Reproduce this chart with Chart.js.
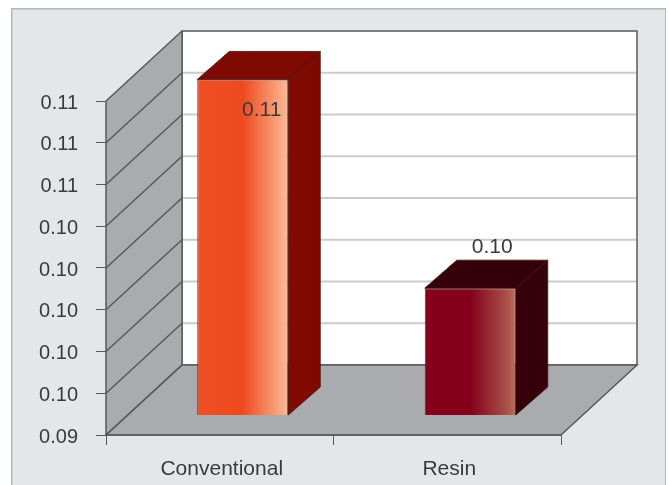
<!DOCTYPE html>
<html>
<head>
<meta charset="utf-8">
<style>
    html, body { margin: 0; padding: 0; background: #ffffff; }
    canvas { display: block; }
</style>
<script src="https://cdn.jsdelivr.net/npm/chart.js@4"></script>
</head>
<body>
<canvas id="myChart" width="669" height="485"></canvas>
<script>
const categories = ["Conventional", "Resin"];
const barValues = [0.1101, 0.1001];
const yTickLabels = ["0.09", "0.10", "0.10", "0.10", "0.10", "0.10", "0.11", "0.11", "0.11"];
const frontGradients = [
    ["#f04e23", "#ee4a20", "#f9a67f", "#f8bb9c"],
    ["#85001b", "#85001b", "#a8504a", "#bd6d60"]
];
const topColors = ["#7f0a02", "#36000b"];
const sideColors = ["#7f0a02", "#36000b"];

// depth of the whole box, and where the bars sit inside it
const boxDepth = { x: 76, y: -70 };
const barShift = { x: 23, y: -19.5 };
const barDepth = { x: 32, y: -28 };

// Panel behind the chart
const panel = {
    id: "panel",
    beforeDraw(chart) {
        const c = chart.ctx;
        c.save();
        c.fillStyle = "#e4e7ea";
        c.fillRect(11, 8, 655, 477);
        c.fillStyle = "#b4b7ba";
        c.fillRect(11, 8, 655, 1.5);
        c.fillRect(11, 8, 1.5, 477);
        c.fillRect(665, 8, 1, 477);
        c.restore();
    }
};

// Floor and walls of the 3D box, drawn from the scales
const box = {
    id: "box",
    beforeDatasetsDraw(chart) {
        const c = chart.ctx;
        const a = chart.chartArea;
        const y = chart.scales.y;
        const dx = boxDepth.x, dy = boxDepth.y;
        c.save();

        // back wall
        c.fillStyle = "#ffffff";
        c.fillRect(a.left + dx, a.top + dy, a.width, a.height);

        // back wall grid
        c.strokeStyle = "#c9cbcc";
        c.lineWidth = 2;
        y.ticks.forEach((t, i) => {
            if (i === 0 || i === y.ticks.length - 1) return;
            const py = y.getPixelForTick(i) + dy;
            c.beginPath();
            c.moveTo(a.left + dx, py);
            c.lineTo(a.right + dx, py);
            c.stroke();
        });

        c.strokeStyle = "#58595b";
        c.lineWidth = 1.5;
        c.strokeRect(a.left + dx, a.top + dy, a.width, a.height);

        // left wall
        c.fillStyle = "#a9abae";
        c.beginPath();
        c.moveTo(a.left, a.top);
        c.lineTo(a.left + dx, a.top + dy);
        c.lineTo(a.left + dx, a.bottom + dy);
        c.lineTo(a.left, a.bottom);
        c.closePath();
        c.fill();

        // floor
        c.beginPath();
        c.moveTo(a.left, a.bottom);
        c.lineTo(a.left + dx, a.bottom + dy);
        c.lineTo(a.right + dx, a.bottom + dy);
        c.lineTo(a.right, a.bottom);
        c.closePath();
        c.fill();
        c.stroke();

        // left wall grid
        c.beginPath();
        y.ticks.forEach((t, i) => {
            const py = y.getPixelForTick(i);
            c.moveTo(a.left, py);
            c.lineTo(a.left + dx, py + dy);
        });
        c.stroke();

        // axis lines
        c.beginPath();
        c.moveTo(a.left, a.top);
        c.lineTo(a.left, a.bottom);
        c.lineTo(a.right, a.bottom);
        c.moveTo(a.left + dx, a.top + dy);
        c.lineTo(a.left + dx, a.bottom + dy);
        c.stroke();
        c.restore();
    },
    beforeDatasetDraw(chart) {
        const c = chart.ctx;
        const bars = chart.getDatasetMeta(0).data;
        c.save();
        c.translate(barShift.x, barShift.y);
        bars.forEach((b, i) => {
            const l = b.x - b.width / 2, r = b.x + b.width / 2;
            c.strokeStyle = "rgba(60,20,15,0.8)";
            c.lineWidth = 1;
            // top face
            c.fillStyle = topColors[i];
            c.beginPath();
            c.moveTo(l, b.y);
            c.lineTo(l + barDepth.x, b.y + barDepth.y);
            c.lineTo(r + barDepth.x, b.y + barDepth.y);
            c.lineTo(r, b.y);
            c.closePath();
            c.fill();
            c.stroke();
            // side face
            c.fillStyle = sideColors[i];
            c.beginPath();
            c.moveTo(r, b.y);
            c.lineTo(r + barDepth.x, b.y + barDepth.y);
            c.lineTo(r + barDepth.x, b.base + barDepth.y);
            c.lineTo(r, b.base);
            c.closePath();
            c.fill();
            c.stroke();
        });
    },
    afterDatasetDraw(chart) {
        chart.ctx.restore();
    },
    afterDatasetsDraw(chart) {
        // value labels
        const c = chart.ctx;
        const bars = chart.getDatasetMeta(0).data;
        c.save();
        c.font = "21px 'Liberation Sans'";
        c.fillStyle = "#3a3a3a";
        c.textAlign = "center";
        c.textBaseline = "middle";
        barValues.forEach((v, i) => {
            const b = bars[i];
            const inside = i === 0;
            const px = b.x + barShift.x + (inside ? 19 : 22);
            const py = b.y + barShift.y + (inside ? 31 : -41);
            c.fillText(v.toFixed(2), px, py);
        });
        c.restore();
    }
};

const frontFill = function (context) {
    const chart = context.chart;
    if (!chart.chartArea) return frontGradients[context.dataIndex][0];
    const x = chart.scales.x.getPixelForValue(context.dataIndex);
    const half = chart.chartArea.width / 2 * 0.4 / 2;
    const g = chart.ctx.createLinearGradient(x - half, 0, x + half, 0);
    const stops = frontGradients[context.dataIndex];
    g.addColorStop(0, stops[0]);
    g.addColorStop(0.5, stops[1]);
    g.addColorStop(0.9, stops[2]);
    g.addColorStop(1, stops[3]);
    return g;
};

new Chart(document.getElementById("myChart").getContext("2d"), {
    type: "bar",
    data: {
        labels: categories,
        datasets: [{
            data: barValues,
            base: 0.094,
            backgroundColor: frontFill,
            borderColor: "rgba(80,30,20,0.9)",
            borderWidth: 1,
            categoryPercentage: 0.4,
            barPercentage: 1,
            clip: false
        }]
    },
    options: {
        responsive: false,
        animation: false,
        layout: { padding: { top: 101, right: 108, left: 0, bottom: 0 } },
        plugins: { legend: { display: false }, tooltip: { enabled: false } },
        scales: {
            x: {
                afterFit: s => { s.height = 50; },
                border: { display: false },
                grid: { drawOnChartArea: false, tickLength: 10, color: "#58595b", offset: true },
                ticks: { color: "#3a3a3a", font: { family: "Liberation Sans", size: 21 }, padding: 12, labelOffset: 2, maxRotation: 0 }
            },
            y: {
                min: 0.094,
                max: 0.11,
                afterFit: s => { s.width = 106; },
                afterBuildTicks: s => {
                    s.ticks = yTickLabels.map((l, i) => ({ value: 0.094 + i * 0.002 }));
                },
                afterTickToLabelConversion: s => {
                    s.ticks.forEach((t, i) => { t.label = yTickLabels[i]; });
                },
                border: { display: false },
                grid: { drawOnChartArea: false, tickLength: 10, color: "#58595b" },
                ticks: { color: "#3a3a3a", font: { family: "Liberation Sans", size: 20 }, padding: 18, labelOffset: 2 }
            }
        }
    },
    plugins: [panel, box]
});
</script>
</body>
</html>
